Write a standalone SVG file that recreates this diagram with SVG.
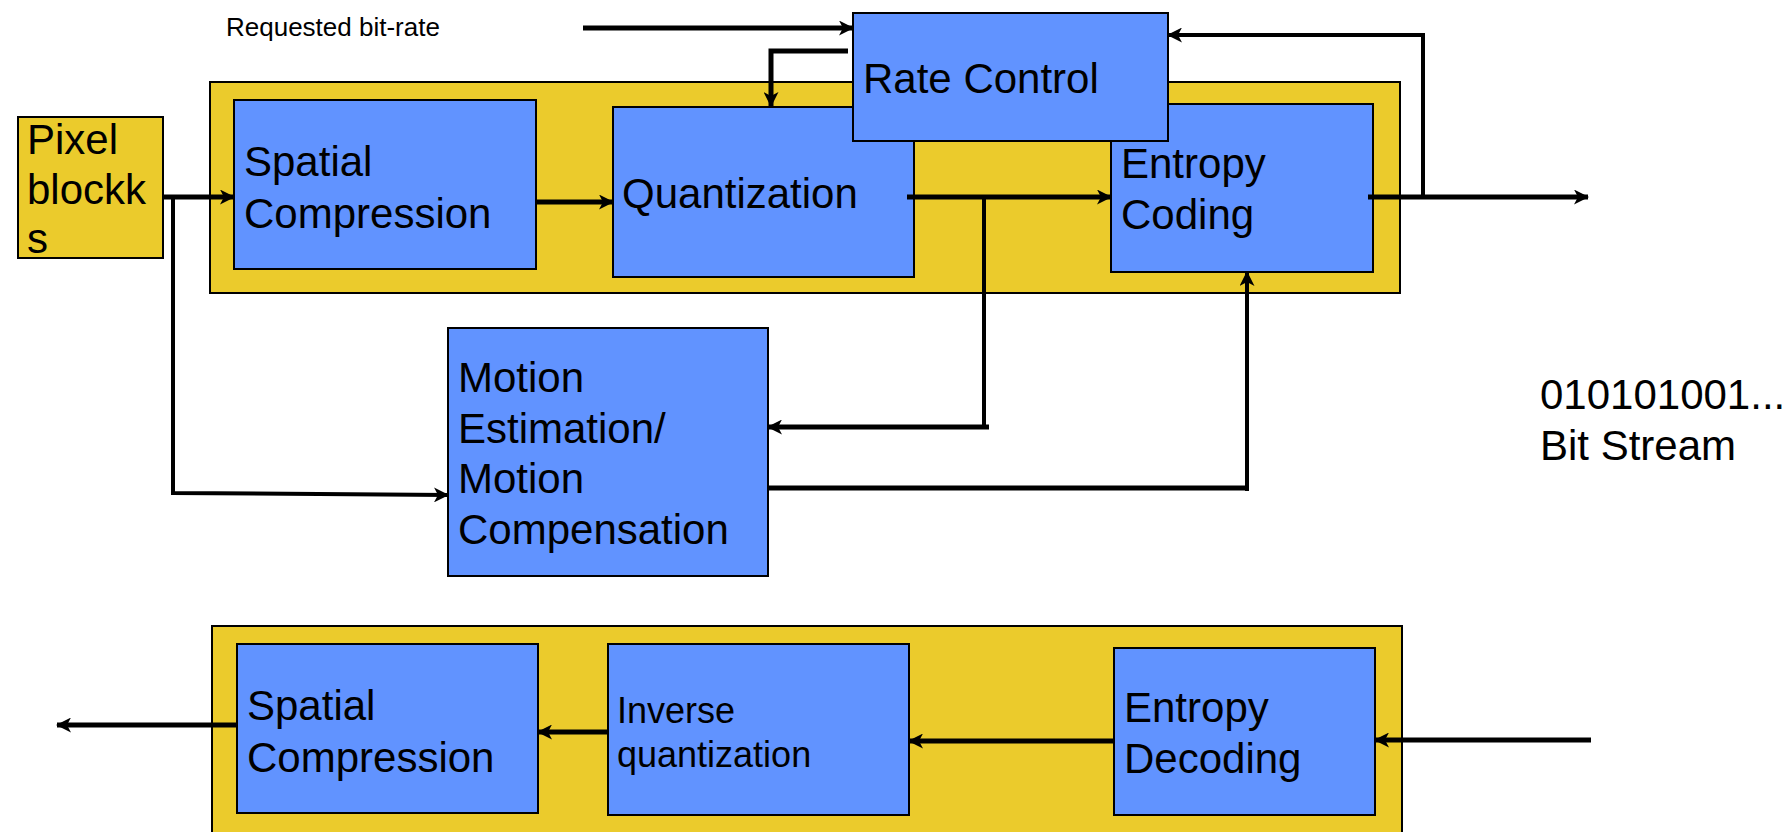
<svg xmlns="http://www.w3.org/2000/svg" width="1792" height="832" viewBox="0 0 1792 832">
<style>
.c{fill:#EBCB2C;stroke:#000;stroke-width:2}
.b{fill:#6193FF;stroke:#000;stroke-width:2}
.t{font-family:"Liberation Sans",Arial,sans-serif;font-size:42px;fill:#000}
.s{font-family:"Liberation Sans",Arial,sans-serif;font-size:36px;fill:#000}
.r{font-family:"Liberation Sans",Arial,sans-serif;font-size:26px;fill:#000}
.k{fill:none;stroke:#000;stroke-width:5}
.n{fill:none;stroke:#000;stroke-width:4}
</style>
<defs>
<marker id="a" markerUnits="userSpaceOnUse" markerWidth="15" markerHeight="15" refX="14" refY="7.5" orient="auto">
<path d="M0,0 L15,7.5 L0,15 L4,7.5 Z" fill="#000"/>
</marker>
</defs>
<g id="encoder-frame"><rect class="c" x="210" y="82" width="1190" height="211"/></g>
<g id="decoder-frame"><rect class="c" x="212" y="626" width="1190" height="220"/></g>
<g id="pixel-blocks"><rect class="c" x="18" y="117" width="145" height="141"/>
<text class="t" x="27" y="154">Pixel</text><text class="t" x="27" y="204">blockk</text><text class="t" x="27" y="253">s</text></g>
<g id="spatial-compression"><rect class="b" x="234" y="100" width="302" height="169"/>
<text class="t" x="244" y="176">Spatial</text><text class="t" x="244" y="228">Compression</text></g>
<g id="quantization"><rect class="b" x="613" y="107" width="301" height="170"/>
<text class="t" x="622" y="208">Quantization</text></g>
<g id="entropy-coding"><rect class="b" x="1111" y="104" width="262" height="168"/>
<text class="t" x="1121" y="178">Entropy</text><text class="t" x="1121" y="229">Coding</text></g>
<g id="rate-control"><rect class="b" x="853" y="13" width="315" height="128"/>
<text class="t" x="863" y="93">Rate Control</text></g>
<g id="motion"><rect class="b" x="448" y="328" width="320" height="248"/>
<text class="t" x="458" y="392">Motion</text><text class="t" x="458" y="443">Estimation/</text><text class="t" x="458" y="493">Motion</text><text class="t" x="458" y="544">Compensation</text></g>
<g id="spatial-compression-2"><rect class="b" x="237" y="644" width="301" height="169"/>
<text class="t" x="247" y="720">Spatial</text><text class="t" x="247" y="772">Compression</text></g>
<g id="inverse-quantization"><rect class="b" x="608" y="644" width="301" height="171"/>
<text class="s" x="617" y="723">Inverse</text><text class="s" x="617" y="767">quantization</text></g>
<g id="entropy-decoding"><rect class="b" x="1114" y="648" width="261" height="167"/>
<text class="t" x="1124" y="722">Entropy</text><text class="t" x="1124" y="773">Decoding</text></g>
<g id="labels">
<text class="r" x="226" y="36">Requested bit-rate</text>
<text class="t" x="1540" y="409">010101001...</text>
<text class="t" x="1540" y="460">Bit Stream</text>
</g>
<g id="connectors">
<path class="k" d="M163,197 H234" marker-end="url(#a)"/>
<path class="n" d="M173,197 V493 L448,495" marker-end="url(#a)"/>
<path class="k" d="M536,202 H613" marker-end="url(#a)"/>
<path class="k" d="M907,197 H1111" marker-end="url(#a)"/>
<path class="n" d="M984,197 V427"/>
<path class="k" d="M989,427 H768" marker-end="url(#a)"/>
<path class="k" d="M768,488 H1249"/>
<path class="n" d="M1247,491 V272" marker-end="url(#a)"/>
<path class="k" d="M1368,197 H1588" marker-end="url(#a)"/>
<path class="n" d="M1423,197 V35 H1168" marker-end="url(#a)"/>
<path class="k" d="M583,28 H853" marker-end="url(#a)"/>
<path class="k" d="M848,51 H771 V106" marker-end="url(#a)"/>
<path class="k" d="M1115,741 H909" marker-end="url(#a)"/>
<path class="k" d="M1591,740 H1375" marker-end="url(#a)"/>
<path class="k" d="M609,732 H538" marker-end="url(#a)"/>
<path class="k" d="M238,725 H57" marker-end="url(#a)"/>
</g>
</svg>
